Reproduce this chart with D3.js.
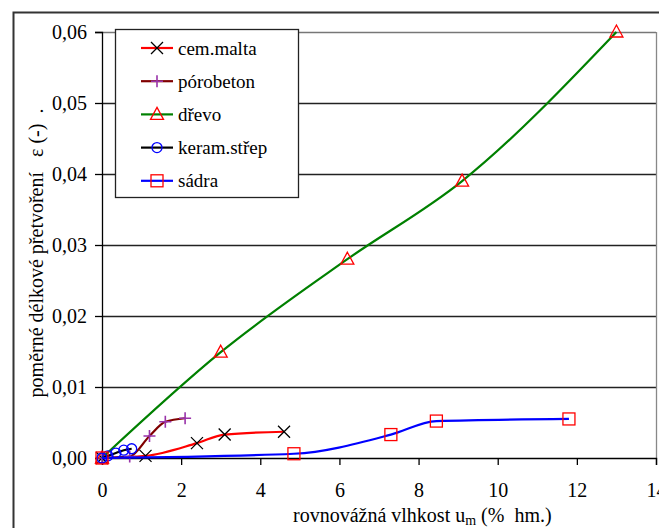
<!DOCTYPE html>
<html>
<head>
<meta charset="utf-8">
<script src="https://cdn.jsdelivr.net/npm/d3@7"></script>
<style>
  body { margin: 0; background: #fff; }
</style>
</head>
<body>
<svg id="chart" width="659" height="528"></svg>
<script>
// data: x = rovnovážná vlhkost [% hm.], y = přetvoření [-]
var cemMaltaX = [0, 1.1, 2.4, 3.1, 4.6];
var cemMaltaY = [0, 0.0003, 0.0021, 0.0033, 0.0037];

var porobetonX = [0, 0.7, 1.2, 1.6, 2.1];
var porobetonY = [0, 0.0002, 0.0031, 0.0051, 0.0056];

var drevoX = [0, 3.0, 6.2, 9.1, 13.0];
var drevoY = [0, 0.0149, 0.0280, 0.0390, 0.0600];

var keramX = [0, 0.15, 0.35, 0.55, 0.75];
var keramY = [0, 0.0003, 0.0007, 0.0011, 0.0013];

var sadraX = [0, 4.85, 7.3, 8.45, 11.8];
var sadraY = [0, 0.0006, 0.0033, 0.0052, 0.0055];

var xTicks = [0, 2, 4, 6, 8, 10, 12, 14];
var yTicks = [0, 0.01, 0.02, 0.03, 0.04, 0.05, 0.06];

var series = [
    { name: "cem.malta", xs: cemMaltaX, ys: cemMaltaY, line: "#ff0000", sym: "cross", symColor: "#000000" },
    { name: "pórobeton", xs: porobetonX, ys: porobetonY, line: "#800000", sym: "plus", symColor: "#9933aa" },
    { name: "dřevo", xs: drevoX, ys: drevoY, line: "#008000", sym: "triangle", symColor: "#ff0000" },
    { name: "keram.střep", xs: keramX, ys: keramY, line: "#000000", sym: "circle", symColor: "#0000ff" },
    { name: "sádra", xs: sadraX, ys: sadraY, line: "#0000ff", sym: "square", symColor: "#ff0000" }
];

var FONT = "Liberation Serif";

var margin = { top: 32, right: 3, bottom: 70, left: 102 };
var svg = d3.select("#chart");
var width = 659 - margin.left - margin.right,
    height = 528 - margin.top - margin.bottom;

var x = d3.scaleLinear().domain([0, 14]).range([0, width]);
var y = d3.scaleLinear().domain([0, 0.06]).range([height, 0]);

// outer chart frame
svg.append("path")
    .attr("d", "M13.5,528 L13.5,12.5 L659,12.5")
    .attr("fill", "none")
    .attr("stroke", "#333")
    .attr("stroke-width", 2);

var g = svg.append("g").attr("transform", "translate(" + margin.left + "," + margin.top + ")");

// grid lines
g.selectAll(".grid")
    .data(yTicks.slice(1))
    .enter().append("line")
    .attr("class", "grid")
    .attr("x1", 0).attr("x2", width)
    .attr("y1", function(d) { return Math.round(y(d)) + 0.5; })
    .attr("y2", function(d) { return Math.round(y(d)) + 0.5; })
    .attr("stroke", function(d, i) { return i === yTicks.length - 2 ? "#777" : "#222"; })
    .attr("stroke-width", 1.3);

// right border of plot area
g.append("line")
    .attr("x1", width + 0.5).attr("x2", width + 0.5)
    .attr("y1", 0).attr("y2", height)
    .attr("stroke", "#888").attr("stroke-width", 1.3);

var fmt = function(d) { return d3.format(".2f")(d).replace(".", ","); };

var yAxis = g.append("g")
    .call(d3.axisLeft(y).tickValues(yTicks).tickFormat(fmt).tickSize(7).tickPadding(8));
var xAxis = g.append("g")
    .attr("transform", "translate(0," + height + ")")
    .call(d3.axisBottom(x).tickValues(xTicks).tickSize(7).tickPadding(18));

[xAxis, yAxis].forEach(function(a) {
    a.attr("font-family", FONT).attr("font-size", 20);
    a.selectAll("path, line").attr("stroke", "#000").attr("stroke-width", 1.3);
    a.selectAll("text").attr("fill", "#000");
});

var line = d3.line()
    .x(function(d) { return x(d[0]); })
    .y(function(d) { return y(d[1]); })
    .curve(d3.curveMonotoneX);

function drawSymbol(sel, sym, color) {
    if (sym === "cross") {
        sel.append("path").attr("d", "M-6,-6L6,6M-6,6L6,-6")
            .attr("stroke", color).attr("stroke-width", 1.3).attr("fill", "none");
    } else if (sym === "plus") {
        sel.append("path").attr("d", "M-6,0L6,0M0,-6L0,6")
            .attr("stroke", color).attr("stroke-width", 1.6).attr("fill", "none");
    } else if (sym === "triangle") {
        sel.append("path").attr("d", "M0,-7L6.5,5L-6.5,5Z")
            .attr("stroke", color).attr("stroke-width", 1.3).attr("fill", "none");
    } else if (sym === "circle") {
        sel.append("circle").attr("r", 5)
            .attr("stroke", color).attr("stroke-width", 1.3).attr("fill", "none");
    } else if (sym === "square") {
        sel.append("rect").attr("x", -6).attr("y", -6).attr("width", 12).attr("height", 12)
            .attr("stroke", color).attr("stroke-width", 1.3).attr("fill", "none");
    }
}

series.forEach(function(s) {
    var pts = s.xs.map(function(v, i) { return [v, s.ys[i]]; });
    g.append("path")
        .datum(pts)
        .attr("d", line)
        .attr("fill", "none")
        .attr("stroke", s.line)
        .attr("stroke-width", 2.2);
    pts.forEach(function(p) {
        var m = g.append("g").attr("transform", "translate(" + x(p[0]) + "," + y(p[1]) + ")");
        drawSymbol(m, s.sym, s.symColor);
    });
});

// legend
var legend = svg.append("g").attr("transform", "translate(115,29)");
legend.append("rect")
    .attr("x", 0.5).attr("y", 0.5).attr("width", 183).attr("height", 168)
    .attr("fill", "#fff").attr("stroke", "#222").attr("stroke-width", 1.3);
series.forEach(function(s, i) {
    var item = legend.append("g").attr("transform", "translate(0," + (19 + i * 33.2) + ")");
    item.append("line").attr("x1", 26).attr("x2", 58).attr("y1", 0).attr("y2", 0)
        .attr("stroke", s.line).attr("stroke-width", 2.2);
    drawSymbol(item.append("g").attr("transform", "translate(42,0)"), s.sym, s.symColor);
    item.append("text").attr("x", 63).attr("y", 6.5)
        .attr("font-family", FONT)
        .attr("font-size", 19)
        .text(s.name);
});

// axis titles
var xt = svg.append("text")
    .attr("x", 293).attr("y", 522)
    .attr("font-family", FONT)
    .attr("font-size", 20);
xt.append("tspan").text("rovnovážná vlhkost u");
xt.append("tspan").attr("dy", 3).attr("font-size", 14).text("m");
xt.append("tspan").attr("dy", -3).attr("xml:space", "preserve").text(" (%  hm.)");

svg.append("text")
    .attr("transform", "translate(43,253) rotate(-90)")
    .attr("text-anchor", "middle")
    .attr("font-family", FONT)
    .attr("font-size", 20)
    .attr("xml:space", "preserve")
    .text("poměrné délkové přetvoření   ε (-)  .");
</script>
</body>
</html>
